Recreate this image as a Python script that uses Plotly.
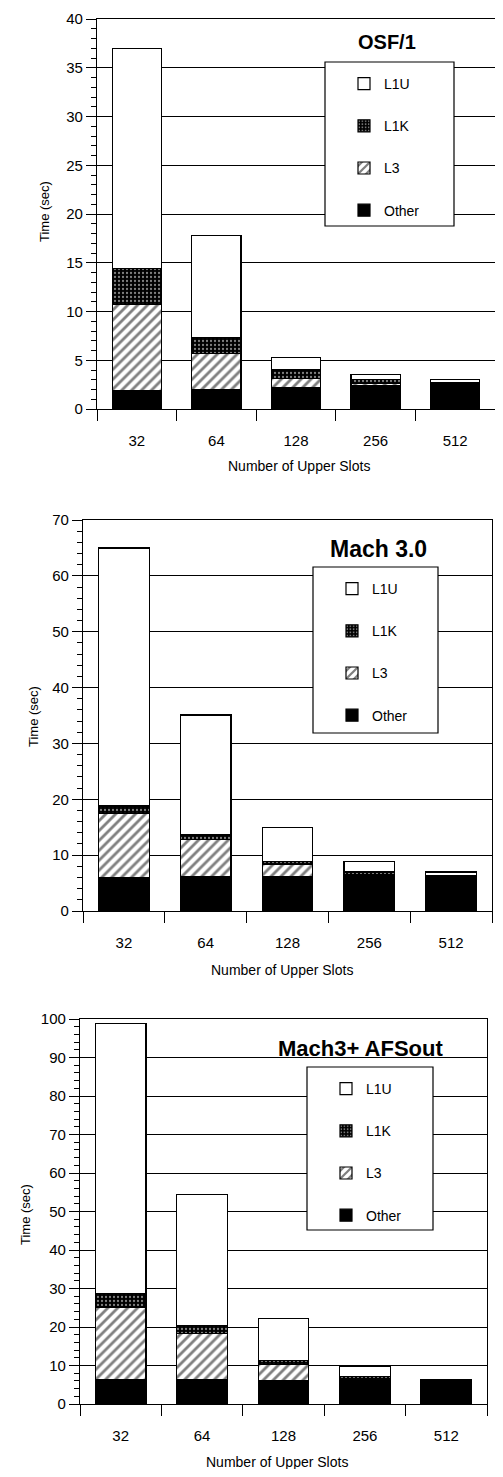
import plotly.graph_objects as go

# The page body has an 8px margin; the figure is sized to fit inside it.
PAGE_W, PAGE_H = 503, 1477
OFF = 8
W, H = PAGE_W - 2 * OFF, PAGE_H - 2 * OFF

categories = ["32", "64", "128", "256", "512"]
series_names = ["Other", "L3", "L1K", "L1U"]
legend_rank = {"L1U": 1, "L1K": 2, "L3": 3, "Other": 4}

osf_other = [1.9, 2.0, 2.2, 2.4, 2.6]
osf_l3 = [8.8, 3.7, 0.9, 0.2, 0.05]
osf_l1k = [3.7, 1.6, 0.9, 0.4, 0.05]
osf_l1u = [22.6, 10.5, 1.3, 0.5, 0.3]

mach_other = [5.9, 6.1, 6.1, 6.3, 6.3]
mach_l3 = [11.6, 6.7, 2.2, 0.2, 0.05]
mach_l1k = [1.3, 0.8, 0.5, 0.5, 0.05]
mach_l1u = [46.2, 21.5, 6.1, 1.8, 0.6]

afs_other = [6.3, 6.3, 6.1, 6.1, 5.9]
afs_l3 = [18.9, 12.0, 4.2, 0.4, 0.05]
afs_l1k = [3.5, 2.0, 1.0, 0.6, 0.05]
afs_l1u = [70.1, 34.2, 10.9, 2.7, 0.35]

chart_titles = ["OSF/1", "Mach 3.0", "Mach3+ AFSout"]
y_ranges = [[0, 40], [0, 70], [0, 100]]
y_dticks = [5, 10, 10]
y_minor = [1, 2, 2]

# page-pixel layout of each panel: left, right, top, bottom
panels = [(97, 500, 19, 409), (83, 492, 520, 911), (80, 487, 1019, 1404)]
legend_boxes = [(325, 454, 62, 226), (313, 438, 567, 733), (307, 433, 1067, 1230)]
title_pos = [(387, 42, 20), (378, 549, 23), (360, 1048, 22)]
xtitle_pos = [(299, 466), (282, 970), (277, 1462)]
ytitle_pos = [(45, 212), (33, 717), (25, 1215)]

data = [
    (osf_other, osf_l3, osf_l1k, osf_l1u),
    (mach_other, mach_l3, mach_l1k, mach_l1u),
    (afs_other, afs_l3, afs_l1k, afs_l1u),
]

FONT = "Liberation Sans, Arial, sans-serif"

def px_x(p):
    return (p - OFF) / W

def px_y(p):
    return 1 - (p - OFF) / H

styles = {
    "Other": dict(color="black", line=dict(color="black", width=1.2)),
    "L3": dict(color="white", line=dict(color="black", width=1.2),
               pattern=dict(shape="/", fgcolor="black", bgcolor="white", size=7, solidity=0.4)),
    "L1K": dict(color="black", line=dict(color="black", width=1.2),
                pattern=dict(shape=".", fgcolor="white", bgcolor="black", size=4, solidity=0.25)),
    "L1U": dict(color="white", line=dict(color="black", width=1.2)),
}

fig = go.Figure()
layout = dict(
    width=W, height=H, autosize=False,
    margin=dict(l=0, r=0, t=0, b=0, autoexpand=False),
    paper_bgcolor="white", plot_bgcolor="white",
    barmode="stack", bargap=0.38,
    font=dict(family=FONT, color="black", size=14),
    showlegend=True,
)
annotations = []
shapes = []

for i, vals in enumerate(data):
    sfx = "" if i == 0 else str(i + 1)
    xa, ya = "x" + sfx, "y" + sfx
    lg = "legend" + sfx
    for name, v in zip(series_names, vals):
        fig.add_trace(go.Bar(
            x=categories, y=v, name=name, xaxis=xa, yaxis=ya,
            marker=styles[name], legend=lg, legendgroup=f"g{i}_{name}",
            legendrank=legend_rank[name],
            showlegend=True, hoverinfo="skip",
        ))
    l, r, t, b = panels[i]
    layout["xaxis" + sfx] = dict(
        domain=[max(0, px_x(l)), min(1, px_x(r))], anchor=ya, type="category",
        automargin=False, ticklabeloverflow="allow",
        showline=True, linecolor="black", linewidth=1.2, mirror=True,
        ticks="outside", tickson="boundaries", ticklen=11, tickcolor="black",
        ticklabelstandoff=18, tickfont=dict(size=15), showgrid=False,
    )
    layout["yaxis" + sfx] = dict(
        domain=[px_y(b), px_y(t)], anchor=xa, range=y_ranges[i],
        automargin=False, ticklabeloverflow="allow",
        dtick=y_dticks[i], showline=True, linecolor="black", linewidth=1.2, mirror=True,
        ticks="outside", ticklen=10, tickcolor="black", tickfont=dict(size=15),
        showgrid=True, gridcolor="black", gridwidth=1.2, zeroline=False,
        minor=dict(dtick=y_minor[i], ticks="outside", ticklen=5, tickcolor="black", showgrid=False),
    )
    bl, br, bt, bb = legend_boxes[i]
    shapes.append(dict(type="rect", xref="paper", yref="paper",
                       x0=px_x(bl), x1=px_x(br), y0=px_y(bb), y1=px_y(bt),
                       line=dict(color="black", width=1.2), fillcolor="white", layer="above"))
    layout[lg] = dict(
        x=px_x(bl + 19), y=px_y(bt + 6), xanchor="left", yanchor="top",
        bgcolor="rgba(0,0,0,0)", borderwidth=0,
        traceorder="grouped", tracegroupgap=21,
        font=dict(size=14, family=FONT), itemclick=False,
    )
    tx, ty, ts = title_pos[i]
    annotations.append(dict(text=f"<b>{chart_titles[i]}</b>", x=px_x(tx), y=px_y(ty),
                            xref="paper", yref="paper", showarrow=False,
                            xanchor="center", yanchor="middle",
                            font=dict(size=ts, family=FONT, color="black")))
    xx, xy = xtitle_pos[i]
    annotations.append(dict(text="Number of Upper Slots", x=px_x(xx), y=px_y(xy),
                            xref="paper", yref="paper", showarrow=False,
                            xanchor="center", yanchor="middle",
                            font=dict(size=14, family=FONT, color="black")))
    yx, yy = ytitle_pos[i]
    annotations.append(dict(text="Time (sec)", x=px_x(yx), y=px_y(yy),
                            xref="paper", yref="paper", showarrow=False, textangle=-90,
                            xanchor="center", yanchor="middle",
                            font=dict(size=13, family=FONT, color="black")))

layout["annotations"] = annotations
layout["shapes"] = shapes
fig.update_layout(**layout)
fig.write_html("out.html")
